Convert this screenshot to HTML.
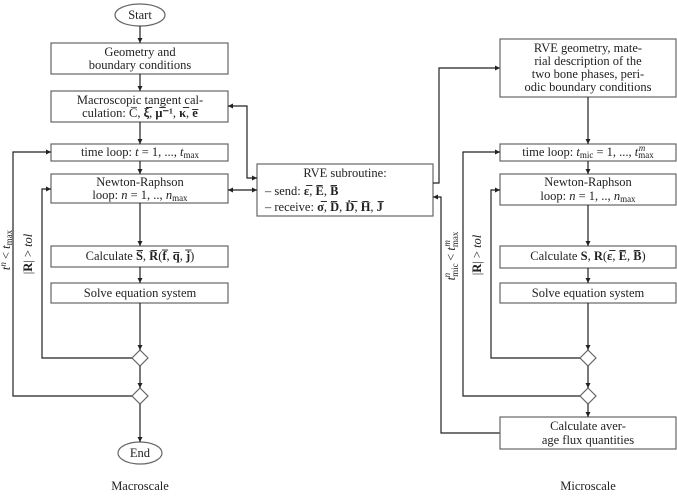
<!DOCTYPE html>
<html><head><meta charset="utf-8"><style>
html,body{margin:0;padding:0;background:#fff;}
svg{display:block;}
text{font-family:"Liberation Serif",serif;font-size:12.5px;fill:#222;}
.b{fill:#fff;stroke:#666;stroke-width:1.2;}
.l{fill:none;stroke:#222;stroke-width:1.2;}
</style></head><body>
<svg width="677" height="496" viewBox="0 0 677 496" xmlns="http://www.w3.org/2000/svg">
<defs><marker id="a" markerWidth="6" markerHeight="6" refX="5" refY="3" orient="auto-start-reverse" markerUnits="userSpaceOnUse"><path d="M0,0.5 L5,3 L0,5.5 z" fill="#222"/></marker></defs>

<!-- LEFT -->
<ellipse cx="140" cy="15" rx="25" ry="11" class="b"/>
<text x="140" y="19" text-anchor="middle">Start</text>
<rect x="51" y="43" width="177" height="31" class="b"/>
<text x="140" y="56" text-anchor="middle">Geometry and</text>
<text x="140" y="69" text-anchor="middle">boundary conditions</text>
<rect x="51" y="91" width="177" height="31" class="b"/>
<text x="140" y="104" text-anchor="middle">Macroscopic tangent cal-</text>
<text x="140" y="117" text-anchor="middle">culation: C̅, <tspan font-weight="bold">ξ̅</tspan>, <tspan font-weight="bold">μ̅⁻¹</tspan>, <tspan font-weight="bold">κ̅</tspan>, <tspan font-weight="bold">e̅</tspan></text>
<rect x="51" y="144" width="177" height="17" class="b"/>
<text x="140" y="156" text-anchor="middle">time loop: <tspan font-style="italic">t</tspan> = 1, ..., <tspan font-style="italic">t</tspan><tspan font-size="9" dy="2">max</tspan></text>
<rect x="51" y="174" width="177" height="29" class="b"/>
<text x="140" y="186" text-anchor="middle">Newton-Raphson</text>
<text x="140" y="199" text-anchor="middle">loop: <tspan font-style="italic">n</tspan> = 1, .., <tspan font-style="italic">n</tspan><tspan font-size="9" dy="2">max</tspan></text>
<rect x="51" y="246" width="177" height="21" class="b"/>
<text x="140" y="260" text-anchor="middle">Calculate <tspan font-weight="bold">S̅</tspan>, <tspan font-weight="bold">R̅</tspan>(<tspan font-weight="bold">f̅</tspan>, <tspan font-weight="bold">q̅</tspan>, <tspan font-weight="bold">j̅</tspan>)</text>
<rect x="51" y="283" width="177" height="20" class="b"/>
<text x="140" y="297" text-anchor="middle">Solve equation system</text>
<path d="M140,350 L148,358 L140,366 L132,358 z" class="b"/>
<path d="M140,388 L148,396 L140,404 L132,396 z" class="b"/>
<ellipse cx="140" cy="453" rx="22" ry="11" class="b"/>
<text x="140" y="457" text-anchor="middle">End</text>
<text x="140" y="490" text-anchor="middle" font-size="11">Macroscale</text>

<line x1="140" y1="26" x2="140" y2="43" class="l" marker-end="url(#a)"/>
<line x1="140" y1="74" x2="140" y2="91" class="l" marker-end="url(#a)"/>
<line x1="140" y1="122" x2="140" y2="144" class="l" marker-end="url(#a)"/>
<line x1="140" y1="161" x2="140" y2="174" class="l" marker-end="url(#a)"/>
<line x1="140" y1="203" x2="140" y2="246" class="l" marker-end="url(#a)"/>
<line x1="140" y1="267" x2="140" y2="283" class="l" marker-end="url(#a)"/>
<line x1="140" y1="303" x2="140" y2="350" class="l" marker-end="url(#a)"/>
<line x1="140" y1="366" x2="140" y2="388" class="l" marker-end="url(#a)"/>
<line x1="140" y1="404" x2="140" y2="442" class="l" marker-end="url(#a)"/>
<polyline points="132,358 42,358 42,189 51,189" class="l" marker-end="url(#a)"/>
<polyline points="132,396 13,396 13,152 51,152" class="l" marker-end="url(#a)"/>
<text transform="translate(10,250) rotate(-90)" text-anchor="middle"><tspan font-style="italic">t</tspan><tspan font-size="9" dy="-4" font-style="italic">n</tspan><tspan dy="4"> &lt; </tspan><tspan font-style="italic">t</tspan><tspan font-size="9" dy="2">max</tspan></text>
<text transform="translate(32,254) rotate(-90)" text-anchor="middle">|<tspan font-weight="bold">R</tspan>| &gt; <tspan font-style="italic">tol</tspan></text>

<!-- RVE subroutine -->
<rect x="257" y="164" width="176" height="52" class="b"/>
<text x="345" y="177" text-anchor="middle">RVE subroutine:</text>
<text x="265" y="195">–  send: <tspan font-weight="bold">ε̅</tspan>, <tspan font-weight="bold">E̅</tspan>, <tspan font-weight="bold">B̅</tspan></text>
<text x="265" y="211">–  receive: <tspan font-weight="bold">σ̅</tspan>, <tspan font-weight="bold">D̅</tspan>, <tspan font-weight="bold">Ḋ̅</tspan>, <tspan font-weight="bold">H̅</tspan>, <tspan font-weight="bold">J̅</tspan></text>
<polyline points="228,106 247,106 247,178 257,178" class="l" marker-start="url(#a)" marker-end="url(#a)"/>
<line x1="228" y1="190" x2="257" y2="190" class="l" marker-start="url(#a)" marker-end="url(#a)"/>
<polyline points="433,183 439,183 439,68 500,68" class="l" marker-end="url(#a)"/>
<polyline points="500,433 441,433 441,197 433,197" class="l" marker-end="url(#a)"/>

<!-- RIGHT -->
<rect x="500" y="39" width="176" height="58" class="b"/>
<text x="588" y="52" text-anchor="middle">RVE geometry, mate-</text>
<text x="588" y="65" text-anchor="middle">rial description of the</text>
<text x="588" y="78" text-anchor="middle">two bone phases, peri-</text>
<text x="588" y="91" text-anchor="middle">odic boundary conditions</text>
<rect x="500" y="144" width="176" height="17" class="b"/>
<text x="588" y="156" text-anchor="middle">time loop: <tspan font-style="italic">t</tspan><tspan font-size="9" dy="2">mic</tspan><tspan dy="-2"> = 1, ..., </tspan><tspan font-style="italic">t</tspan><tspan font-size="9" dy="2">max</tspan><tspan font-size="9" dx="-15" dy="-7" font-style="italic">m</tspan></text>
<rect x="500" y="174" width="176" height="31" class="b"/>
<text x="588" y="186" text-anchor="middle">Newton-Raphson</text>
<text x="588" y="200" text-anchor="middle">loop: <tspan font-style="italic">n</tspan> = 1, .., <tspan font-style="italic">n</tspan><tspan font-size="9" dy="2">max</tspan></text>
<rect x="500" y="246" width="176" height="22" class="b"/>
<text x="588" y="260" text-anchor="middle">Calculate <tspan font-weight="bold">S</tspan>, <tspan font-weight="bold">R</tspan>(<tspan font-weight="bold">ε̅</tspan>, <tspan font-weight="bold">E̅</tspan>, <tspan font-weight="bold">B̅</tspan>)</text>
<rect x="500" y="283" width="176" height="20" class="b"/>
<text x="588" y="297" text-anchor="middle">Solve equation system</text>
<path d="M588,350 L596,358 L588,366 L580,358 z" class="b"/>
<path d="M588,388 L596,396 L588,404 L580,396 z" class="b"/>
<rect x="500" y="417" width="176" height="32" class="b"/>
<text x="588" y="430" text-anchor="middle">Calculate aver-</text>
<text x="588" y="444" text-anchor="middle">age flux quantities</text>
<text x="588" y="490" text-anchor="middle" font-size="11">Microscale</text>

<line x1="588" y1="97" x2="588" y2="144" class="l" marker-end="url(#a)"/>
<line x1="588" y1="161" x2="588" y2="174" class="l" marker-end="url(#a)"/>
<line x1="588" y1="205" x2="588" y2="246" class="l" marker-end="url(#a)"/>
<line x1="588" y1="268" x2="588" y2="283" class="l" marker-end="url(#a)"/>
<line x1="588" y1="303" x2="588" y2="350" class="l" marker-end="url(#a)"/>
<line x1="588" y1="366" x2="588" y2="388" class="l" marker-end="url(#a)"/>
<line x1="588" y1="404" x2="588" y2="417" class="l" marker-end="url(#a)"/>
<polyline points="580,358 491,358 491,190 500,190" class="l" marker-end="url(#a)"/>
<polyline points="580,396 463,396 463,152 500,152" class="l" marker-end="url(#a)"/>
<text transform="translate(455,256) rotate(-90)" text-anchor="middle"><tspan font-style="italic">t</tspan><tspan font-size="9" dy="3">mic</tspan><tspan font-size="9" dx="-14" dy="-8" font-style="italic">n</tspan><tspan dx="9" dy="5"> &lt; </tspan><tspan font-style="italic">t</tspan><tspan font-size="9" dy="3">max</tspan><tspan font-size="9" dx="-15" dy="-8" font-style="italic">m</tspan></text>
<text transform="translate(481,255) rotate(-90)" text-anchor="middle">|<tspan font-weight="bold">R</tspan>| &gt; <tspan font-style="italic">tol</tspan></text>
</svg>
</body></html>
